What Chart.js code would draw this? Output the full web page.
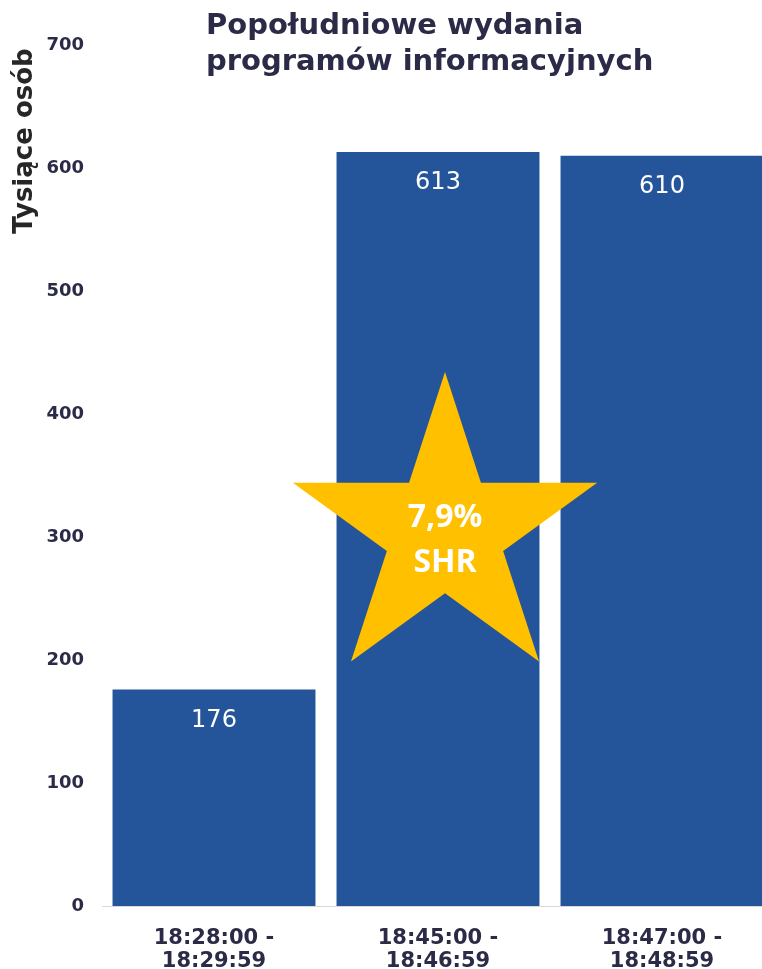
<!DOCTYPE html>
<html>
<head>
<meta charset="utf-8">
<script src="https://cdn.jsdelivr.net/npm/chart.js@4"></script>
<style>
  html, body { margin: 0; padding: 0; background: #fff; overflow: hidden; }
  #wrap { width: 762px; height: 969px; overflow: hidden; }
</style>
</head>
<body>
<div id="wrap"><canvas id="ogladalnoscChart" width="774" height="969"></canvas></div>
<script>
// dane
var przedzialy = [['18:28:00 -', '18:29:59'], ['18:45:00 -', '18:46:59'], ['18:47:00 -', '18:48:59']];
var widzowie = [176, 613, 610];
var tytul = ['Popołudniowe wydania', 'programów informacyjnych'];
var tytulOsi = 'Tysiące osób';
var gwiazdkaTekst = ['7,9%', 'SHR'];
var gwiazdkaWartosc = 304; // wysokość środka gwiazdki na osi Y
var gwiazdkaIndeks = 1;

var granat = '#2b2b47';

document.addEventListener('DOMContentLoaded', function () {
    var ctx = document.getElementById('ogladalnoscChart').getContext('2d');

    var dodatki = {
        id: 'dodatki',
        beforeDatasetsDraw: function (chart) {
            var c = chart.ctx;
            var y0 = chart.scales.y.getPixelForValue(0);
            c.save();
            c.strokeStyle = '#d9d9d9';
            c.lineWidth = 1;
            c.beginPath();
            c.moveTo(chart.chartArea.left, Math.round(y0) + 0.5);
            c.lineTo(chart.width, Math.round(y0) + 0.5);
            c.stroke();
            c.restore();
        },
        afterDatasetsDraw: function (chart) {
            var c = chart.ctx;
            var meta = chart.getDatasetMeta(0);
            c.save();
            // etykiety wartości
            c.fillStyle = '#ffffff';
            c.font = '24px "DejaVu Sans"';
            c.textAlign = 'center';
            c.textBaseline = 'middle';
            meta.data.forEach(function (bar, i) {
                c.fillText(String(widzowie[i]), bar.x, bar.y + 31);
            });

            // gwiazdka
            var cx = meta.data[gwiazdkaIndeks].x + 7;
            var cy = chart.scales.y.getPixelForValue(gwiazdkaWartosc);
            var R = 160, r = R * 0.382;
            c.fillStyle = '#ffc000';
            c.beginPath();
            for (var k = 0; k < 10; k++) {
                var rad = (k % 2 === 0) ? R : r;
                var a = -Math.PI / 2 + k * Math.PI / 5;
                var px = cx + rad * Math.cos(a), py = cy + rad * Math.sin(a);
                if (k === 0) c.moveTo(px, py); else c.lineTo(px, py);
            }
            c.closePath();
            c.fill();
            c.fillStyle = '#ffffff';
            c.font = 'bold 32px "Open Sans"';
            c.fillText(gwiazdkaTekst[0], cx, cy - 14);
            c.fillText(gwiazdkaTekst[1], cx, cy + 31);

            // tytuł
            c.fillStyle = granat;
            c.textAlign = 'left';
            c.font = 'bold 29px "DejaVu Sans"';
            c.fillText(tytul[0], 206, 26);
            c.fillText(tytul[1], 206, 62);

            // tytuł osi Y
            c.textAlign = 'center';
            c.fillStyle = '#262626';
            c.font = 'bold 26px "DejaVu Sans"';
            c.translate(25, 141);
            c.rotate(-Math.PI / 2);
            c.fillText(tytulOsi, 0, 0);
            c.restore();
        }
    };

    var ogladalnoscChart = new Chart(ctx, {
        type: 'bar',
        data: {
            labels: przedzialy,
            datasets: [{
                data: widzowie,
                backgroundColor: '#24559a',
                categoryPercentage: 1,
                barPercentage: 0.906
            }]
        },
        options: {
            responsive: false,
            animation: false,
            layout: { padding: { top: 45, left: 0, right: 0, bottom: 0 } },
            plugins: {
                legend: { display: false },
                title: { display: false },
                tooltip: { enabled: false }
            },
            scales: {
                x: {
                    grid: { display: false },
                    border: { display: false },
                    ticks: {
                        color: granat,
                        font: { family: 'DejaVu Sans', weight: 'bold', size: 21, lineHeight: 1.1 },
                        padding: 13,
                        maxRotation: 0
                    },
                    afterFit: function (s) { s.height = 63; }
                },
                y: {
                    min: 0,
                    max: 700,
                    grid: { display: false },
                    border: { display: false },
                    ticks: {
                        stepSize: 100,
                        color: granat,
                        font: { family: 'DejaVu Sans', weight: 'bold', size: 18 },
                        padding: 10
                    },
                    afterFit: function (s) { s.width = 102; }
                }
            }
        },
        plugins: [dodatki]
    });
});
</script>
</body>
</html>
